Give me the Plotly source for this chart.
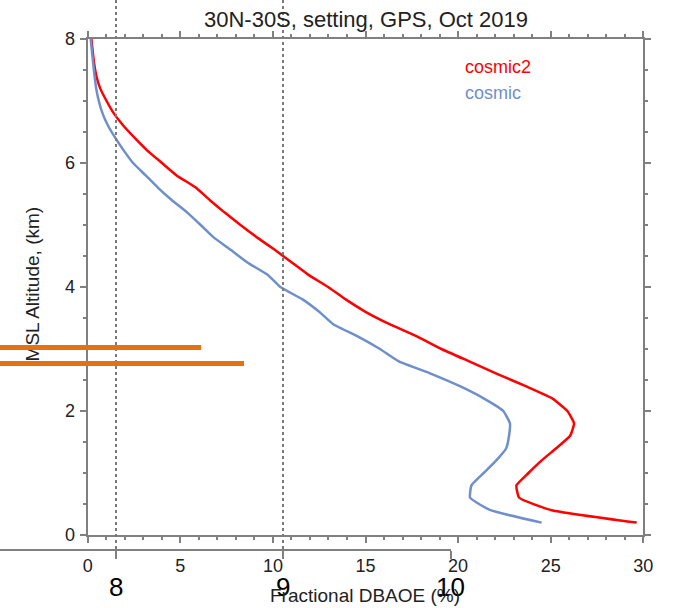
import plotly.graph_objects as go

# ---------------- data ----------------
cosmic2_alt = [0.2, 0.4, 0.6, 0.8, 1.0, 1.2, 1.4, 1.6, 1.8, 2.0, 2.2, 2.4, 2.6, 2.8, 3.0,
               3.2, 3.4, 3.6, 3.8, 4.0, 4.2, 4.4, 4.6, 4.8, 5.0, 5.2, 5.4, 5.6, 5.8, 6.0,
               6.2, 6.4, 6.6, 6.8, 7.0, 7.2, 7.4, 7.6, 7.8, 8.0]
cosmic2_val = [29.64, 25.05, 23.3, 23.15, 23.8, 24.5, 25.3, 26.05, 26.26, 25.9, 25.1, 23.65,
               22.1, 20.6, 19.1, 17.8, 16.3, 15.0, 13.93, 12.98, 11.9, 11.0, 10.1, 9.14, 8.25,
               7.4, 6.6, 5.85, 4.8, 4.01, 3.22, 2.55, 1.93, 1.41, 1.02, 0.68, 0.47, 0.35, 0.27, 0.2]

cosmic_alt = [0.2, 0.4, 0.6, 0.8, 1.0, 1.2, 1.4, 1.6, 1.8, 2.0, 2.2, 2.4, 2.6, 2.8, 3.0,
              3.2, 3.4, 3.6, 3.8, 4.0, 4.2, 4.4, 4.6, 4.8, 5.0, 5.2, 5.4, 5.6, 5.8, 6.0,
              6.2, 6.4, 6.6, 6.8, 7.0, 7.2, 7.4, 7.6, 7.8, 8.0]
cosmic_val = [24.51, 21.75, 20.65, 20.72, 21.38, 22.05, 22.6, 22.75, 22.8, 22.44, 21.4, 20.1,
              18.55, 16.8, 15.78, 14.6, 13.26, 12.5, 11.6, 10.4, 9.7, 8.6, 7.72, 6.8, 6.1,
              5.38, 4.55, 3.8, 3.13, 2.45, 1.95, 1.5, 1.1, 0.8, 0.6, 0.46, 0.37, 0.3, 0.23, 0.16]

series_names = ["cosmic2", "cosmic"]
series_colors = ["#ff0000", "#6f8fcb"]

x_ticks = [0, 5, 10, 15, 20, 25, 30]
y_ticks = [0, 2, 4, 6, 8]

overlay_pos = [1, 2]
overlay_val = [8.765, 8.51]
overlay_ticks = [8, 9, 10]

title_text = "30N-30S, setting, GPS, Oct 2019"
x_title = "Fractional DBAOE (%)"
y_title = "MSL Altitude, (km)"

# ---------------- figure ----------------
W, H = 673, 608
FONT = "Liberation Sans, Arial, sans-serif"
AX = "#808080"
TXT = "#222222"

def px_x(p):
    return p / W

def px_y(p):
    return 1 - p / H

fig = go.Figure()

fig.add_trace(go.Scatter(x=cosmic2_val, y=cosmic2_alt, mode="lines",
                         line=dict(color=series_colors[0], width=2.5, shape="spline", smoothing=0.4),
                         name=series_names[0], xaxis="x", yaxis="y"))
fig.add_trace(go.Scatter(x=cosmic_val, y=cosmic_alt, mode="lines",
                         line=dict(color=series_colors[1], width=2.5, shape="spline", smoothing=0.4),
                         name=series_names[1], xaxis="x", yaxis="y"))
# carrier for the rotated y title axis
fig.add_trace(go.Scatter(x=[None], y=[None], mode="lines", xaxis="x", yaxis="y3",
                         hoverinfo="skip"))

fig.add_trace(go.Bar(x=overlay_val, y=overlay_pos, orientation="h", width=0.3,
                     marker=dict(color="#e8700e", line=dict(width=0)),
                     xaxis="x2", yaxis="y2"))

common_main = dict(showline=True, linecolor=AX, linewidth=2, mirror="ticks",
                   ticks="outside", ticklen=6, tickwidth=1.5, tickcolor=AX,
                   showgrid=False, zeroline=False, automargin=False,
                   tickfont=dict(family=FONT, size=18, color=TXT))

fig.update_layout(
    width=W, height=H, autosize=False,
    margin=dict(l=0, r=0, t=0, b=0, pad=0, autoexpand=False),
    paper_bgcolor="white", plot_bgcolor="rgba(0,0,0,0)",
    showlegend=False,
    font=dict(family=FONT, color=TXT),
    title=dict(text=title_text, x=px_x(366), y=px_y(19.5), xanchor="center",
               yanchor="middle", automargin=False,
               font=dict(family=FONT, size=22, color=TXT)),
    xaxis=dict(domain=[px_x(87.7), px_x(643.3)], range=[0, 30], anchor="y",
               tickvals=x_ticks, ticklabelstandoff=7,
               minor=dict(dtick=1, ticks="outside", ticklen=3, tickwidth=1.5, tickcolor=AX),
               **common_main),
    yaxis=dict(domain=[px_y(535), px_y(39)], range=[0, 8], anchor="x",
               tickvals=y_ticks, ticklabelstandoff=1,
               minor=dict(dtick=0.5, ticks="outside", ticklen=3, tickwidth=1.5, tickcolor=AX),
               **common_main),
    yaxis3=dict(overlaying="y", anchor="free", position=px_x(43), side="left",
                range=[0, 8], tickvals=[4.0], ticktext=[y_title], tickangle=-90,
                ticks="", showline=False, showgrid=False, zeroline=False, automargin=False,
                tickfont=dict(family=FONT, size=19, color=TXT)),
    xaxis2=dict(domain=[0, px_x(451)], range=[7.305, 10.003], anchor="y2",
                tickvals=overlay_ticks, showline=True, linecolor=AX, linewidth=2,
                ticks="outside", ticklen=8, tickwidth=2, tickcolor=AX,
                showgrid=True, gridcolor="#7a7a7a", gridwidth=2, griddash="dot",
                zeroline=False, ticklabelstandoff=6, automargin=False,
                tickfont=dict(family=FONT, size=26, color="#000000")),
    yaxis2=dict(domain=[px_y(549), 1], range=[-10.606, 23.706], anchor="x2",
                visible=False, showgrid=False, zeroline=False, automargin=False),
    bargap=0,
)

fig.add_annotation(text=x_title, x=px_x(365), y=px_y(595), xref="paper", yref="paper",
                   xanchor="center", yanchor="middle", showarrow=False,
                   font=dict(family=FONT, size=19, color=TXT))
fig.add_annotation(text=series_names[0], x=px_x(463), y=px_y(66.7), xref="paper", yref="paper",
                   xanchor="left", yanchor="middle", showarrow=False,
                   font=dict(family=FONT, size=18, color=series_colors[0]))
fig.add_annotation(text=series_names[1], x=px_x(463), y=px_y(93), xref="paper", yref="paper",
                   xanchor="left", yanchor="middle", showarrow=False,
                   font=dict(family=FONT, size=18, color=series_colors[1]))

fig.write_html("out.html")
